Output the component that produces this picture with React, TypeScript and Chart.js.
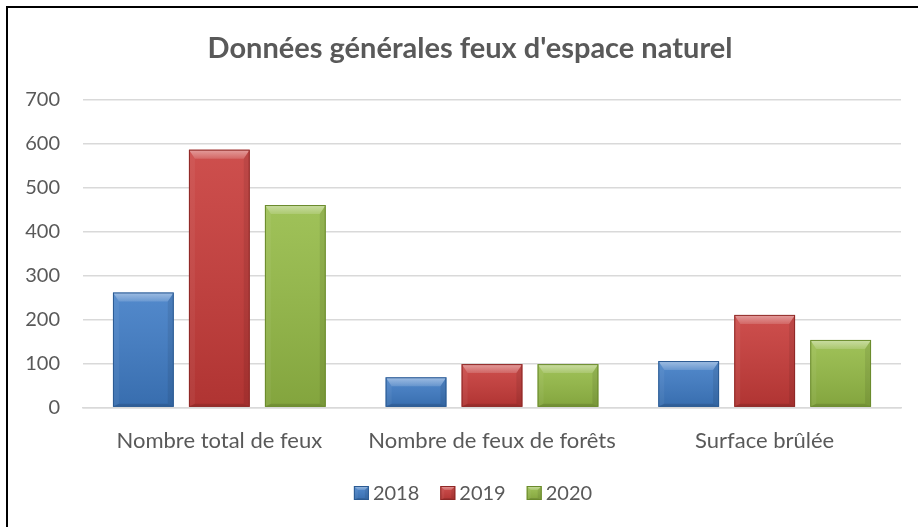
import React, { useEffect, useRef } from "react";
import { Chart, registerables } from "chart.js";

Chart.register(...registerables);

const TITLE = "Données générales feux d'espace naturel";
const categories = ["Nombre total de feux", "Nombre de feux de forêts", "Surface brûlée"];
const seriesLabels = ["2018", "2019", "2020"];
const values2018 = [262, 69, 106];
const values2019 = [587, 99, 211];
const values2020 = [461, 99, 154];
const yMin = 0;
const yMax = 700;
const yStep = 100;

const COLORS = ["#3f7cc6", "#c83b39", "#95bb46"];
const EDGE = ["#2b5a92", "#8e2826", "#6a8a2c"];
const TEXT = "#595959";
const FONT = "Lato, 'Open Sans', sans-serif";

function bevelRect(ctx: CanvasRenderingContext2D, l: number, t: number, r: number, btm: number, bt: number, bs: number, bb: number, i: number) {
  const h = btm - t;
  const w = r - l;
  if (h <= 0 || w <= 0) return;
  const g = ctx.createLinearGradient(0, t, 0, btm);
  g.addColorStop(0, "rgba(255,255,255,0.10)");
  g.addColorStop(1, "rgba(0,0,0,0.12)");
  ctx.fillStyle = g;
  ctx.fillRect(l, t, w, h);
  ctx.beginPath();
  ctx.moveTo(l, t);
  ctx.lineTo(r, t);
  ctx.lineTo(r - bs, t + bt);
  ctx.lineTo(l + bs, t + bt);
  ctx.closePath();
  const gt = ctx.createLinearGradient(0, t, 0, t + bt);
  gt.addColorStop(0, "rgba(255,255,255,0.45)");
  gt.addColorStop(1, "rgba(255,255,255,0.15)");
  ctx.fillStyle = gt;
  ctx.fill();
  ctx.beginPath();
  ctx.moveTo(l, t);
  ctx.lineTo(l + bs, t + bt);
  ctx.lineTo(l + bs, btm - bb);
  ctx.lineTo(l, btm);
  ctx.closePath();
  ctx.fillStyle = "rgba(255,255,255,0.05)";
  ctx.fill();
  ctx.beginPath();
  ctx.moveTo(r, t);
  ctx.lineTo(r - bs, t + bt);
  ctx.lineTo(r - bs, btm - bb);
  ctx.lineTo(r, btm);
  ctx.closePath();
  ctx.fillStyle = "rgba(0,0,0,0.08)";
  ctx.fill();
  ctx.beginPath();
  ctx.moveTo(l, btm);
  ctx.lineTo(l + bs, btm - bb);
  ctx.lineTo(r - bs, btm - bb);
  ctx.lineTo(r, btm);
  ctx.closePath();
  ctx.fillStyle = "rgba(0,0,0,0.12)";
  ctx.fill();
  ctx.strokeStyle = EDGE[i];
  ctx.lineWidth = 1;
  ctx.strokeRect(l + 0.5, t + 0.5, w - 1, h - 1);
}

const decorPlugin = {
  id: "decor",
  beforeDraw(chart: any) {
    const { ctx, width, height } = chart;
    ctx.save();
    ctx.fillStyle = "#ffffff";
    ctx.fillRect(0, 0, width, height);
    ctx.restore();
  },
  afterDatasetsDraw(chart: any) {
    const ctx = chart.ctx as CanvasRenderingContext2D;
    ctx.save();
    chart.data.datasets.forEach((_ds: any, i: number) => {
      const meta = chart.getDatasetMeta(i);
      meta.data.forEach((bar: any) => {
        const { x, y, base, width } = bar.getProps(["x", "y", "base", "width"], true);
        const l = x - width / 2;
        const r = x + width / 2;
        const h = base - y;
        const bt = Math.min(9, h / 2);
        const bs = Math.min(6, width / 2, h / 2);
        const bb = Math.min(3, h / 2);
        bevelRect(ctx, l, y, r, base, bt, bs, bb, i);
      });
    });
    ctx.restore();
  },
  afterDraw(chart: any) {
    const ctx = chart.ctx as CanvasRenderingContext2D;
    const { width, height } = chart;
    ctx.save();
    ctx.fillStyle = TEXT;
    ctx.font = `bold 29px ${FONT}`;
    ctx.textAlign = "center";
    ctx.textBaseline = "middle";
    ctx.fillText(TITLE, 470, 49);
    ctx.font = `20px ${FONT}`;
    ctx.textAlign = "left";
    const boxW = 15;
    const boxH = 14;
    const gapBoxText = 4;
    const gapItems = 21;
    const labels = chart.data.datasets.map((d: any) => d.label as string);
    const widths = labels.map((s: string) => boxW + gapBoxText + ctx.measureText(s).width);
    const total = widths.reduce((a: number, b: number) => a + b, 0) + gapItems * (labels.length - 1);
    let x = 473 - total / 2;
    const cy = 493;
    labels.forEach((s: string, i: number) => {
      ctx.fillStyle = COLORS[i];
      ctx.fillRect(x, cy - boxH / 2, boxW, boxH);
      bevelRect(ctx, x, cy - boxH / 2, x + boxW, cy + boxH / 2, 4, 4, 2, i);
      ctx.fillStyle = TEXT;
      ctx.fillText(s, x + boxW + gapBoxText, cy + 1);
      x += widths[i] + gapItems;
    });
    ctx.strokeStyle = "#000000";
    ctx.lineWidth = 2;
    ctx.beginPath();
    ctx.moveTo(7, height);
    ctx.lineTo(7, 7);
    ctx.lineTo(width, 7);
    ctx.stroke();
    ctx.restore();
  },
};

export default function App() {
  const ref = useRef<HTMLCanvasElement | null>(null);
  useEffect(() => {
    if (!ref.current) return;
    const chart = new Chart(ref.current, {
      type: "bar",
      data: {
        labels: categories,
        datasets: [
          { label: seriesLabels[0], data: values2018, backgroundColor: COLORS[0] },
          { label: seriesLabels[1], data: values2019, backgroundColor: COLORS[1] },
          { label: seriesLabels[2], data: values2020, backgroundColor: COLORS[2] },
        ],
      },
      options: {
        responsive: false,
        animation: false,
        devicePixelRatio: 1,
        categoryPercentage: 0.836,
        barPercentage: 0.8,
        layout: { padding: { left: 0, right: 17, top: 100, bottom: 53 } },
        plugins: {
          legend: { display: false },
          title: { display: false },
          tooltip: { enabled: false },
        },
        scales: {
          x: {
            grid: { display: false, drawTicks: false },
            border: { display: true, color: "#d9d9d9", width: 1.5 },
            ticks: { color: TEXT, font: { family: FONT, size: 22 }, padding: 20, maxRotation: 0 },
          },
          y: {
            min: yMin,
            max: yMax,
            afterFit: (scale: any) => {
              scale.width = 83;
            },
            grid: { color: "#d9d9d9", lineWidth: 1.5, drawTicks: false },
            border: { display: false },
            ticks: { stepSize: yStep, color: TEXT, font: { family: FONT, size: 20 }, padding: 23 },
          },
        },
      },
      plugins: [decorPlugin],
    });
    return () => chart.destroy();
  }, []);
  return (
    <div style={{ position: "fixed", left: 0, top: 0, width: 918, height: 527, background: "#fff" }}>
      <canvas ref={ref} width={918} height={527} style={{ display: "block", width: 918, height: 527 }} />
    </div>
  );
}
